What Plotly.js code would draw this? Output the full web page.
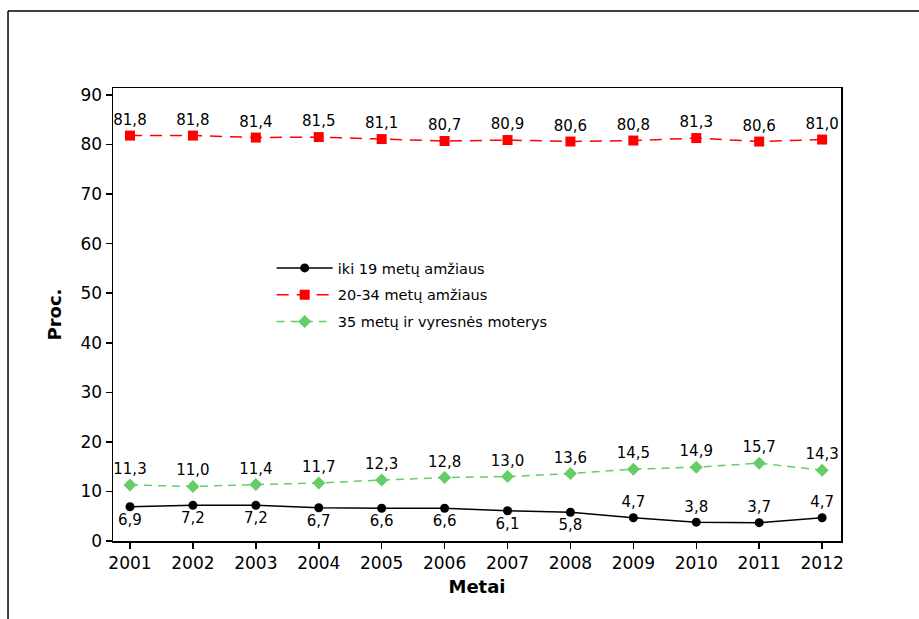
<!DOCTYPE html>
<html>
<head>
<meta charset="utf-8">
<script src="https://cdn.plot.ly/plotly-3.0.1.min.js"></script>
<style>html,body{margin:0;padding:0;background:#fff;}#chart{width:919px;height:619px;}</style>
</head>
<body>
<div id="chart"></div>
<script>
const years = [2001,2002,2003,2004,2005,2006,2007,2008,2009,2010,2011,2012];
const under19 = [6.9,7.2,7.2,6.7,6.6,6.6,6.1,5.8,4.7,3.8,3.7,4.7];
const age20to34 = [81.8,81.8,81.4,81.5,81.1,80.7,80.9,80.6,80.8,81.3,80.6,81.0];
const age35plus = [11.3,11.0,11.4,11.7,12.3,12.8,13.0,13.6,14.5,14.9,15.7,14.3];
const seriesNames = ['iki 19 metų amžiaus','20-34 metų amžiaus','35 metų ir vyresnės moterys'];
const under19Pos = ['bottom center','bottom center','bottom center','bottom center','bottom center','bottom center','bottom center','bottom center','top center','top center','top center','top center'];

const fmt = v => v.toFixed(1).replace('.', ',');
const font = 'DejaVu Sans, Verdana, sans-serif';

const traces = [
  {x: years, y: under19, name: seriesNames[0], legendgroup: 'a', type: 'scatter', mode: 'lines+markers+text',
   line: {color: '#000000', width: 1.5}, marker: {symbol: 'circle', size: 9, color: '#000000'},
   text: under19.map(fmt), textposition: under19Pos, textfont: {family: font, size: 15, color: '#000'}, cliponaxis: false},
  {x: years, y: age20to34, name: seriesNames[1], legendgroup: 'b', type: 'scatter', mode: 'lines+markers+text',
   line: {color: '#ff0000', width: 1.5, dash: '12px,8px'}, marker: {symbol: 'square', size: 10, color: '#ff0000'},
   text: age20to34.map(fmt), textposition: 'top center', textfont: {family: font, size: 15, color: '#000'}, cliponaxis: false},
  {x: years, y: age35plus, name: seriesNames[2], legendgroup: 'c', type: 'scatter', mode: 'lines+markers+text',
   line: {color: '#66cc66', width: 1.5, dash: '8px,6px'}, marker: {symbol: 'diamond', size: 10, color: '#66cc66'},
   text: age35plus.map(fmt), textposition: 'top center', textfont: {family: font, size: 15, color: '#000'}, cliponaxis: false}
];

const layout = {
  width: 919, height: 619,
  margin: {l: 113, r: 78, t: 88, b: 78},
  paper_bgcolor: '#fff', plot_bgcolor: '#fff',
  font: {family: font, color: '#000'},
  showlegend: true,
  legend: {x: 0.218, y: 0.638, xanchor: 'left', yanchor: 'top', bgcolor: 'rgba(0,0,0,0)',
           font: {family: font, size: 14.5, color: '#000'}, itemwidth: 56, tracegroupgap: 5},
  xaxis: {range: [2000.73, 2012.3], tickvals: years, ticktext: years.map(String),
          showgrid: false, zeroline: false, showline: true, linecolor: '#000', linewidth: 1.5, mirror: true,
          ticks: 'outside', ticklen: 6, tickcolor: '#000', tickwidth: 1.5,
          tickfont: {family: font, size: 17, color: '#000'},
          title: {text: '<b>Metai</b>', font: {family: font, size: 18, color: '#000'}, standoff: 8}},
  yaxis: {range: [0, 91.4], tickvals: [0,10,20,30,40,50,60,70,80,90],
          showgrid: false, zeroline: false, showline: true, linecolor: '#000', linewidth: 1.5, mirror: true,
          ticks: 'outside', ticklen: 6, tickcolor: '#000', tickwidth: 1.5,
          tickfont: {family: font, size: 17, color: '#000'},
          title: {text: '<b>Proc.</b>', font: {family: font, size: 18, color: '#000'}, standoff: 14}},
  shapes: [
    {type: 'line', xref: 'paper', yref: 'paper', x0: -0.1442, x1: 1.12, y0: 1.17, y1: 1.17, line: {color: '#000', width: 1.5}},
    {type: 'line', xref: 'paper', yref: 'paper', x0: -0.1442, x1: -0.1442, y0: 1.17, y1: -0.18, line: {color: '#000', width: 1.5}}
  ]
};

Plotly.newPlot('chart', traces, layout, {displayModeBar: false, staticPlot: true});
</script>
</body>
</html>
